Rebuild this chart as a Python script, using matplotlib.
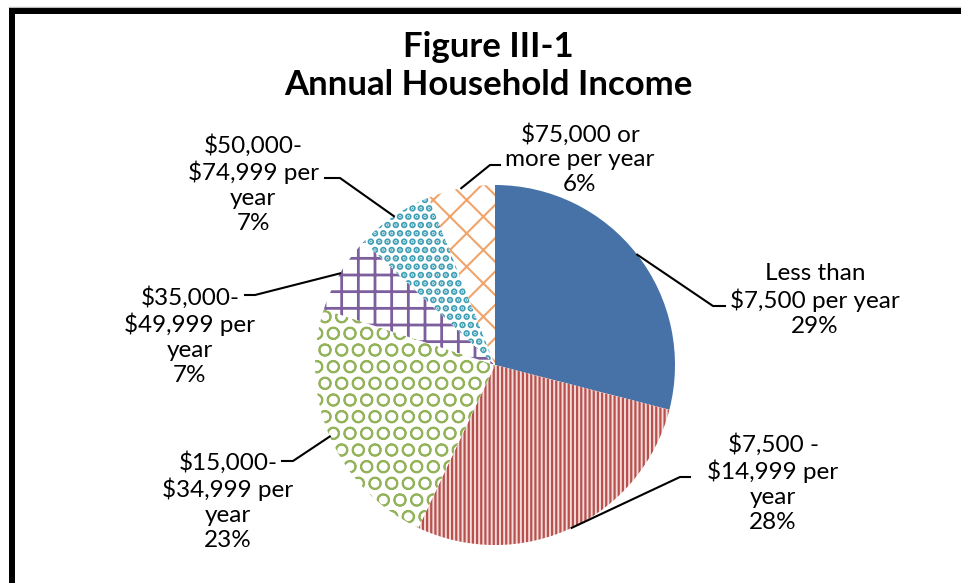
import matplotlib
matplotlib.use('Agg')
import matplotlib.pyplot as plt
import numpy as np

plt.rcParams['font.family'] = ['Lato', 'DejaVu Sans']
plt.rcParams['hatch.linewidth'] = 1.5

# chart data
categories = ['Less than\n$7,500 per year',
              '$7,500 -\n$14,999 per\nyear',
              '$15,000-\n$34,999 per\nyear',
              '$35,000-\n$49,999 per\nyear',
              '$50,000-\n$74,999 per\nyear',
              '$75,000 or\nmore per year']
shares = [29, 28, 23, 7, 7, 6]

# wedge styles (Excel-like pattern fills)
faces = ['#4672A8', '#F2DCDB', 'white', 'white', 'white', 'white']
pattern_colors = ['#4672A8', '#B9504C', '#93B35A', '#7D5F9E', '#3E9FB5', '#F0A46A']
hatches = [None, '||||', 'O', '+', '..', 'x']
hatch_widths = [1.5, 1.6, 1.3, 2.0, 3.4, 1.5]

# label layout in pixels: text centre, leader elbow, leader end
label_xy = [(815, 300), (773, 483), (228, 501), (190, 336), (253, 184), (580, 159)]
elbows = [(713, 306), (680, 477), (293, 461), (255, 295), (340, 178), (490, 165)]
ends = [(725, 306), (690, 477), (282, 461), (245, 295), (325, 178), (500, 165)]

W, H = 961, 583
cx, cy, r = 495, 365, 180

fig = plt.figure(figsize=(W / 100, H / 100), dpi=100)
ax = fig.add_axes([0, 0, 1, 1])

# y axis runs downward, so counterclock in data is clockwise on screen
wedges, _ = ax.pie(shares, startangle=-90, counterclock=True,
                   center=(cx, cy), radius=r, colors=faces,
                   wedgeprops=dict(linewidth=0))
for w, col, h, hw in zip(wedges, pattern_colors, hatches, hatch_widths):
    w.set_edgecolor(col)
    if h:
        w.set_hatch(h)
        if hasattr(w, 'set_hatch_linewidth'):
            w.set_hatch_linewidth(hw)

ax.set_xlim(0, W)
ax.set_ylim(H, 0)
ax.axis('off')

# labels with leader lines starting at the middle of each wedge's arc
for w, lab, v, txy, el, en in zip(wedges, categories, shares, label_xy, elbows, ends):
    mid = np.deg2rad((w.theta1 + w.theta2) / 2)
    sx, sy = cx + r * np.cos(mid), cy + r * np.sin(mid)
    ax.plot([sx, el[0], en[0]], [sy, el[1], en[1]], color='black', lw=1.5)
    ax.text(txy[0], txy[1], f'{lab}\n{v}%', ha='center', va='center',
            multialignment='center', fontsize=17.5, linespacing=1.22)

# title
ax.text(488, 66, 'Figure III-1\nAnnual Household Income', ha='center', va='center',
        fontsize=25, fontweight='bold', linespacing=1.2)

# chart frame (partly cropped in the original)
ax.plot([9, W], [7, 7], color='#BBBBBB', lw=1, clip_on=False)
ax.plot([12, 12], [10, H], color='black', lw=4.3, clip_on=False, solid_capstyle='butt')
ax.plot([9, W], [10.5, 10.5], color='black', lw=4.3, clip_on=False, solid_capstyle='butt')

fig.savefig('out.png', dpi=100)
